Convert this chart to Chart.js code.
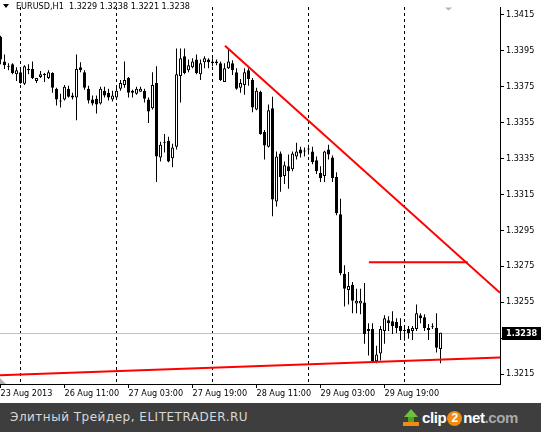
<!DOCTYPE html>
<html>
<head>
<meta charset="utf-8">
<title>EURUSD,H1</title>
<script src="https://cdn.jsdelivr.net/npm/chart.js@4.4.1/dist/chart.umd.min.js"></script>
<style>
  html, body { margin: 0; padding: 0; background: #fff; }
  #frame { position: relative; width: 541px; height: 432px; overflow: hidden; background: #fff; }
  #chart { position: absolute; left: 0; top: 0; }
  #head { position: absolute; left: 0; top: 0; width: 300px; height: 13px; }
  #head .tri { position: absolute; left: 3px; top: 4px; width: 0; height: 0;
    border-left: 3px solid transparent; border-right: 3px solid transparent; border-top: 4px solid #000; }
  #head .txt { position: absolute; left: 16px; top: 0; font: 9px "DejaVu Sans Condensed", "DejaVu Sans", sans-serif;
    line-height: 12px; color: #000; white-space: pre; }
  #banner { position: absolute; left: 0; top: 403px; width: 541px; height: 29px; background: #3e3e3e; }
  #site { position: absolute; left: 10px; top: 7px; font: 12px "DejaVu Sans", sans-serif; color: #d8d8d8;
    letter-spacing: 0.5px; white-space: nowrap; }
  #logo { position: absolute; left: 403px; top: 6px; width: 130px; height: 20px; }
  #logo .arrowHead { position: absolute; left: 1px; top: 0; width: 0; height: 0;
    border-left: 7px solid transparent; border-right: 7px solid transparent; border-bottom: 8px solid #6cc23a; }
  #logo .arrowStem { position: absolute; left: 5px; top: 8px; width: 6px; height: 5px; background: #4fa528; }
  #logo .arrowBase { position: absolute; left: 0; top: 13px; width: 16px; height: 4px; background: #f08c10; }
  #logo .word { position: absolute; left: 19px; top: 0; font: bold 15px "Liberation Sans", Arial, sans-serif;
    color: #fff; letter-spacing: -0.4px; line-height: 18px; white-space: nowrap; }
  #logo .two { display: inline-block; width: 15px; height: 15px; border-radius: 50%; background: #f08c10;
    color: #fff; text-align: center; line-height: 15px; font-size: 12px; margin: 0 1px; vertical-align: 1px; }
  #logo .dom { color: #a8a8a8; }
</style>
</head>
<body>
<div id="frame">
  <canvas id="chart" width="541" height="403"></canvas>
  <div id="head"><div class="tri"></div><div class="txt" id="headTxt"></div></div>
  <div id="banner">
    <div id="site">Элитный Трейдер, ELITETRADER.RU</div>
    <div id="logo">
      <div class="arrowHead"></div><div class="arrowStem"></div><div class="arrowBase"></div>
      <div class="word">clip<span class="two">2</span>net<span class="dom">.com</span></div>
    </div>
  </div>
</div>
<script>
// EURUSD H1, bars from 23 Aug 19:00 to 30 Aug 2013
const symbol = 'EURUSD,H1';

const openP = [
  1.34025, 1.33888, 1.33856, 1.33872, 1.33817, 1.33828, 1.33763, 1.33845, 1.33845, 1.33779,
  1.33801, 1.33812, 1.33796, 1.33823, 1.33736, 1.33665, 1.33676, 1.33736, 1.33687, 1.33687,
  1.33856, 1.33828, 1.33736, 1.33676, 1.33681, 1.33654, 1.33725, 1.33714, 1.33676, 1.33687,
  1.33736, 1.33757, 1.33796, 1.33725, 1.33708, 1.33719, 1.33725, 1.33676, 1.33627, 1.33768,
  1.33354, 1.33436, 1.33447, 1.33349, 1.33414, 1.33807, 1.33916, 1.33839, 1.33856, 1.33899,
  1.33817, 1.33883, 1.33899, 1.33877, 1.33877, 1.33877, 1.33774, 1.33850, 1.33877, 1.33828,
  1.33741, 1.33757, 1.33839, 1.33785, 1.33621, 1.33719, 1.33496, 1.33414, 1.33627, 1.33109,
  1.33376, 1.33251, 1.33305, 1.33289, 1.33360, 1.33398, 1.33387, 1.33398, 1.33387, 1.33338,
  1.33267, 1.33251, 1.33398, 1.33354, 1.33245, 1.33038, 1.32706, 1.32618, 1.32646, 1.32542,
  1.32542, 1.32548, 1.32390, 1.32400, 1.32221, 1.32264, 1.32390, 1.32449, 1.32444, 1.32439,
  1.32417, 1.32390, 1.32400, 1.32390, 1.32400, 1.32477, 1.32466, 1.32395, 1.32411, 1.32406, 1.32290
];
const highP = [
  1.34030, 1.33926, 1.33877, 1.33877, 1.33856, 1.33850, 1.33866, 1.33872, 1.33888, 1.33796,
  1.33834, 1.33823, 1.33839, 1.33828, 1.33741, 1.33708, 1.33757, 1.33752, 1.33714, 1.33926,
  1.33883, 1.33839, 1.33752, 1.33698, 1.33698, 1.33747, 1.33747, 1.33736, 1.33725, 1.33741,
  1.33785, 1.33888, 1.33801, 1.33730, 1.33747, 1.33747, 1.33736, 1.33687, 1.33828, 1.33861,
  1.33441, 1.33485, 1.33469, 1.33430, 1.33959, 1.33959, 1.33959, 1.33899, 1.33905, 1.33926,
  1.33899, 1.33916, 1.33905, 1.33905, 1.33899, 1.33888, 1.33877, 1.33954, 1.33894, 1.33850,
  1.33790, 1.33850, 1.33850, 1.33796, 1.33741, 1.33725, 1.33507, 1.33648, 1.33692, 1.33387,
  1.33387, 1.33332, 1.33371, 1.33387, 1.33436, 1.33414, 1.33409, 1.33425, 1.33414, 1.33360,
  1.33305, 1.33392, 1.33425, 1.33365, 1.33272, 1.33125, 1.32755, 1.32717, 1.32662, 1.32624,
  1.32624, 1.32657, 1.32433, 1.32433, 1.32308, 1.32417, 1.32477, 1.32471, 1.32499, 1.32460,
  1.32460, 1.32417, 1.32417, 1.32417, 1.32537, 1.32488, 1.32482, 1.32428, 1.32433, 1.32488, 1.32380
];
const lowP = [
  1.33872, 1.33845, 1.33839, 1.33817, 1.33779, 1.33763, 1.33757, 1.33817, 1.33790, 1.33768,
  1.33796, 1.33774, 1.33790, 1.33714, 1.33643, 1.33632, 1.33670, 1.33687, 1.33676, 1.33561,
  1.33828, 1.33730, 1.33654, 1.33643, 1.33599, 1.33648, 1.33687, 1.33670, 1.33665, 1.33681,
  1.33725, 1.33741, 1.33687, 1.33687, 1.33703, 1.33719, 1.33659, 1.33545, 1.33621, 1.33218,
  1.33332, 1.33381, 1.33327, 1.33300, 1.33398, 1.33659, 1.33817, 1.33828, 1.33850, 1.33817,
  1.33785, 1.33850, 1.33850, 1.33861, 1.33866, 1.33779, 1.33774, 1.33845, 1.33812, 1.33730,
  1.33714, 1.33703, 1.33752, 1.33605, 1.33616, 1.33480, 1.33343, 1.33409, 1.33027, 1.33082,
  1.33163, 1.33207, 1.33180, 1.33278, 1.33343, 1.33354, 1.33360, 1.33371, 1.33316, 1.33262,
  1.33218, 1.33218, 1.33343, 1.33218, 1.33033, 1.32700, 1.32526, 1.32537, 1.32488, 1.32488,
  1.32482, 1.32319, 1.32253, 1.32215, 1.32210, 1.32226, 1.32319, 1.32390, 1.32373, 1.32379,
  1.32340, 1.32335, 1.32346, 1.32340, 1.32390, 1.32433, 1.32390, 1.32340, 1.32400, 1.32270, 1.32210
];
const closeP = [
  1.33899, 1.33866, 1.33856, 1.33823, 1.33839, 1.33768, 1.33861, 1.33839, 1.33796, 1.33796,
  1.33817, 1.33812, 1.33828, 1.33741, 1.33676, 1.33665, 1.33747, 1.33692, 1.33698, 1.33845,
  1.33839, 1.33741, 1.33670, 1.33654, 1.33648, 1.33736, 1.33698, 1.33687, 1.33698, 1.33725,
  1.33768, 1.33785, 1.33714, 1.33714, 1.33736, 1.33736, 1.33681, 1.33610, 1.33757, 1.33360,
  1.33425, 1.33436, 1.33332, 1.33409, 1.33817, 1.33905, 1.33823, 1.33866, 1.33888, 1.33823,
  1.33877, 1.33905, 1.33883, 1.33888, 1.33888, 1.33785, 1.33850, 1.33888, 1.33839, 1.33736,
  1.33768, 1.33828, 1.33790, 1.33632, 1.33725, 1.33485, 1.33420, 1.33616, 1.33120, 1.33360,
  1.33245, 1.33311, 1.33278, 1.33376, 1.33387, 1.33376, 1.33387, 1.33398, 1.33327, 1.33278,
  1.33240, 1.33387, 1.33371, 1.33240, 1.33044, 1.32711, 1.32624, 1.32640, 1.32558, 1.32558,
  1.32558, 1.32373, 1.32400, 1.32221, 1.32259, 1.32400, 1.32460, 1.32433, 1.32417, 1.32406,
  1.32390, 1.32390, 1.32379, 1.32406, 1.32488, 1.32460, 1.32406, 1.32406, 1.32411, 1.32297, 1.32380
];

// time axis: bar index of each label, and of each day start
const timeLabels = ['23 Aug 2013', '26 Aug 11:00', '27 Aug 03:00', '27 Aug 19:00', '28 Aug 11:00', '29 Aug 03:00', '29 Aug 19:00'];
const timeLabelIdx = [0, 16, 32, 48, 64, 80, 96];
const daySepIdx = [5, 29, 53, 77, 101];

const priceTicks = [1.3415, 1.3395, 1.3375, 1.3355, 1.3335, 1.3315, 1.3295, 1.3275, 1.3255, 1.3235, 1.3215];

// drawn objects (bar index, price)
const resistLine = [{ x: 56.125, y: 1.33975 }, { x: 124.875, y: 1.32602 }];
const levelLine = [{ x: 92.1, y: 1.32771 }, { x: 116.8, y: 1.32771 }];
const supportLine = [{ x: -0.125, y: 1.32144 }, { x: 124.875, y: 1.32242 }];

const FONT = '"DejaVu Sans Condensed", "DejaVu Sans", sans-serif';
const last = closeP.length - 1;

document.getElementById('headTxt').textContent =
  symbol + '  ' + [openP[last], highP[last], lowP[last], closeP[last]].map(v => v.toFixed(4)).join(' ');

const idx = openP.map((_, i) => i);
const wickData = idx.map(i => ({ x: i, y: [lowP[i], highP[i]] }));
const bodyData = idx.map(i => ({ x: i, y: [openP[i], closeP[i]] }));
const bodyFill = idx.map(i => closeP[i] > openP[i] ? '#ffffff' : '#000000');

// current price line + price label, little chart markers
const mt4Extras = {
  id: 'mt4Extras',
  beforeDatasetsDraw(chart) {
    const { ctx, chartArea: a, scales: { y } } = chart;
    const py = Math.round(y.getPixelForValue(closeP[last])) + 0.5;
    ctx.save();
    ctx.strokeStyle = '#c0c0c0';
    ctx.lineWidth = 1;
    ctx.beginPath();
    ctx.moveTo(a.left, py);
    ctx.lineTo(a.right, py);
    ctx.stroke();
    ctx.restore();
  },
  afterDraw(chart) {
    const { ctx, chartArea: a, scales: { y } } = chart;
    const py = Math.round(y.getPixelForValue(closeP[last]));
    ctx.save();
    ctx.fillStyle = '#000';
    ctx.fillRect(a.right + 2, py - 6, 39, 13);
    ctx.fillStyle = '#fff';
    ctx.font = 'bold 9px ' + FONT;
    ctx.textBaseline = 'middle';
    ctx.fillText(closeP[last].toFixed(4), a.right + 6, py + 1);
    // chart shift marker and scroll marker
    ctx.fillStyle = '#b4b4b4';
    ctx.beginPath();
    ctx.moveTo(a.right - 55, a.top);
    ctx.lineTo(a.right - 48, a.top);
    ctx.lineTo(a.right - 51.5, a.top + 3);
    ctx.closePath();
    ctx.fill();
    ctx.beginPath();
    ctx.moveTo(a.left, a.bottom - 6);
    ctx.lineTo(a.left, a.bottom);
    ctx.lineTo(a.left + 6, a.bottom);
    ctx.closePath();
    ctx.fill();
    ctx.restore();
  }
};

const redLine = (data) => ({
  type: 'line', data, xAxisID: 'x', yAxisID: 'y',
  borderColor: '#ff0000', borderWidth: 2, pointRadius: 0, tension: 0, order: 0
});

new Chart(document.getElementById('chart'), {
  type: 'bar',
  data: {
    datasets: [
      redLine(resistLine),
      redLine(levelLine),
      redLine(supportLine),
      {
        label: 'body', data: bodyData, xAxisID: 'x', yAxisID: 'y',
        backgroundColor: bodyFill, borderColor: '#000', borderWidth: 1, borderSkipped: false,
        barThickness: 3, maxBarThickness: 3, minBarLength: 1, grouped: false, inflateAmount: 0, order: 1
      },
      {
        label: 'wick', data: wickData, xAxisID: 'x', yAxisID: 'y',
        backgroundColor: '#000', borderWidth: 0,
        barThickness: 1, maxBarThickness: 1, grouped: false, inflateAmount: 0, order: 2
      }
    ]
  },
  options: {
    responsive: false,
    animation: false,
    devicePixelRatio: 1,
    layout: { padding: 0 },
    events: [],
    plugins: { legend: { display: false }, tooltip: { enabled: false } },
    scales: {
      x: {
        type: 'linear', position: 'bottom', min: -0.125, max: 124.875, offset: false,
        afterBuildTicks: s => { s.ticks = timeLabelIdx.map(v => ({ value: v })); },
        afterFit: s => { s.height = 19; },
        ticks: {
          autoSkip: false, maxRotation: 0, minRotation: 0, align: 'start', padding: 0,
          color: '#000', font: { family: FONT, size: 9 },
          callback: v => timeLabels[timeLabelIdx.indexOf(v)]
        },
        grid: { offset: false, drawOnChartArea: false, drawTicks: true, tickLength: 4, color: '#000' },
        border: { color: '#000', width: 1 }
      },
      sep: {
        type: 'linear', axis: 'x', position: 'top', min: -0.125, max: 124.875, offset: false,
        afterBuildTicks: s => { s.ticks = daySepIdx.map(v => ({ value: v })); },
        afterFit: s => { s.height = 0; },
        ticks: { display: false },
        grid: { offset: false, drawOnChartArea: true, drawTicks: false, color: '#000', lineWidth: 1 },
        border: { display: false, dash: [3, 3] }
      },
      y: {
        type: 'linear', position: 'right', min: 1.32095, max: 1.34188,
        afterBuildTicks: s => { s.ticks = priceTicks.map(v => ({ value: v })); },
        afterFit: s => { s.width = 41; },
        ticks: { padding: 2, color: '#000', font: { family: FONT, size: 9 }, callback: v => v.toFixed(4) },
        grid: { drawOnChartArea: false, tickLength: 4, color: '#000' },
        border: { color: '#000' }
      }
    }
  },
  plugins: [mt4Extras]
});
</script>
</body>
</html>
